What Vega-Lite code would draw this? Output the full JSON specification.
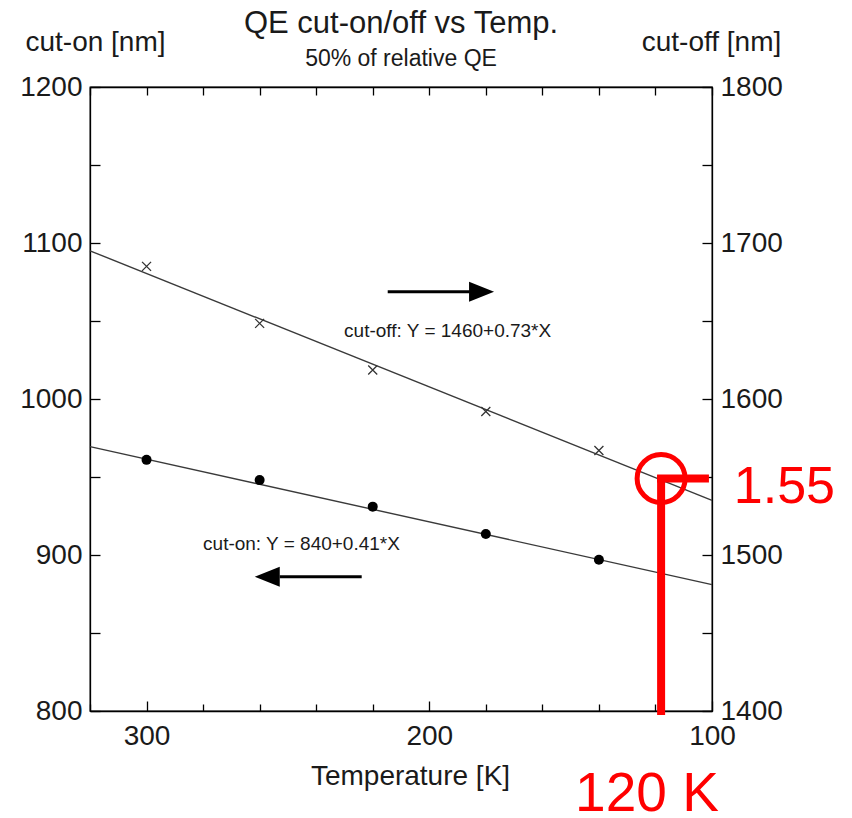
{
  "$schema": "https://vega.github.io/schema/vega-lite/v6.json",
  "width": 622,
  "height": 624,
  "autosize": {"type": "none"},
  "padding": {"left": 90, "top": 87, "right": 140, "bottom": 107},
  "background": "white",
  "config": {
    "view": {"stroke": "black", "strokeWidth": 1.3},
    "font": "Liberation Sans",
    "axis": {
      "domainColor": "black", "tickColor": "black", "domainWidth": 1.3, "tickWidth": 1.3,
      "labelColor": "#1a1a1a", "titleColor": "#1a1a1a",
      "labelFont": "Liberation Sans", "titleFont": "Liberation Sans",
      "grid": false, "titleFontWeight": "normal", "labelFontSize": 28, "titleFontSize": 28,
      "labelFlush": false, "labelOverlap": false
    }
  },
  "title": {
    "text": "QE cut-on/off vs Temp.",
    "subtitle": "50% of relative QE",
    "fontSize": 31, "subtitleFontSize": 23,
    "font": "Liberation Sans", "subtitleFont": "Liberation Sans",
    "fontWeight": "normal", "color": "#1a1a1a", "subtitleColor": "#1a1a1a",
    "frame": "group", "anchor": "middle", "offset": -44, "subtitlePadding": 8
  },
  "datasets": {
    "cuton": [
      {"T": 300, "nm": 961},
      {"T": 260, "nm": 948},
      {"T": 220, "nm": 931},
      {"T": 180, "nm": 913.5},
      {"T": 140, "nm": 897}
    ],
    "cutoff": [
      {"T": 300, "nm": 1685},
      {"T": 260, "nm": 1648.5},
      {"T": 220, "nm": 1618.6},
      {"T": 180, "nm": 1592},
      {"T": 140, "nm": 1567}
    ],
    "cuton_fit": [
      {"T": 320, "nm": 969.5},
      {"T": 100, "nm": 881}
    ],
    "cutoff_fit": [
      {"T": 320, "nm": 1695},
      {"T": 100, "nm": 1535}
    ]
  },
  "layer": [
    {
      "encoding": {
        "x": {
          "field": "T", "type": "quantitative",
          "scale": {"domain": [100, 320], "reverse": true, "nice": false, "zero": false},
          "axis": {
            "orient": "bottom",
            "values": [100, 120, 140, 160, 180, 200, 220, 240, 260, 280, 300, 320],
            "format": "d",
            "labelExpr": "datum.value % 100 === 0 ? datum.label : ''",
            "tickSize": {"condition": {"test": "datum.value % 100 === 0", "value": -10}, "value": -7},
            "labelPadding": 21,
            "title": "Temperature [K]", "titleFontSize": 28,
            "titleX": 320, "titleY": 73, "titleBaseline": "alphabetic", "titleAlign": "center"
          }
        },
        "y": {
          "field": "nm", "type": "quantitative",
          "scale": {"domain": [800, 1200], "nice": false, "zero": false},
          "axis": {
            "orient": "left",
            "values": [800, 850, 900, 950, 1000, 1050, 1100, 1150, 1200],
            "format": "d",
            "labelExpr": "datum.value % 100 === 0 ? datum.label : ''",
            "tickSize": -10, "labelPadding": 18,
            "title": "cut-on [nm]", "titleAngle": 0, "titleAlign": "center",
            "titleBaseline": "alphabetic", "titleX": 5, "titleY": -37
          }
        }
      },
      "layer": [
        {"data": {"name": "cuton_fit"}, "mark": {"type": "line", "color": "#3a3a3a", "strokeWidth": 1.4}},
        {"data": {"name": "cuton"}, "mark": {"type": "point", "shape": "circle", "filled": true, "color": "black", "size": 100, "opacity": 1}},
        {
          "data": {"values": [{"T": 245.2, "nm": 903.2, "label": "cut-on: Y = 840+0.41*X"}]},
          "mark": {"type": "text", "fontSize": 19, "align": "center", "baseline": "alphabetic", "color": "#1a1a1a"},
          "encoding": {"text": {"field": "label"}}
        },
        {
          "data": {"values": [{"T": 252.9, "T2": 223.9, "nm": 886}]},
          "mark": {"type": "rule", "color": "black", "strokeWidth": 3},
          "encoding": {"x2": {"field": "T2"}}
        },
        {
          "data": {"values": [{"T": 257.3, "nm": 886}]},
          "mark": {"type": "point", "shape": "M1,-0.8L-1,0L1,0.8Z", "filled": true, "color": "black", "size": 625, "opacity": 1}
        },
        {
          "data": {"values": [{"T": 118, "nm": 948.7, "nm2": 800}]},
          "mark": {"type": "rule", "color": "#ff0000", "strokeWidth": 8, "strokeCap": "square"},
          "encoding": {"y2": {"field": "nm2"}}
        },
        {
          "data": {"values": [{"T": 123, "nm": 736, "label": "120 K"}]},
          "mark": {"type": "text", "fontSize": 55, "align": "center", "baseline": "alphabetic", "color": "#ff0000"},
          "encoding": {"text": {"field": "label"}}
        }
      ]
    },
    {
      "encoding": {
        "x": {
          "field": "T", "type": "quantitative",
          "scale": {"domain": [100, 320], "reverse": true, "nice": false, "zero": false},
          "axis": {
            "orient": "top",
            "values": [100, 120, 140, 160, 180, 200, 220, 240, 260, 280, 300, 320],
            "labels": false, "tickSize": -8, "title": null
          }
        },
        "y": {
          "field": "nm", "type": "quantitative",
          "scale": {"domain": [1400, 1800], "nice": false, "zero": false},
          "axis": {
            "orient": "right",
            "values": [1400, 1450, 1500, 1550, 1600, 1650, 1700, 1750, 1800],
            "format": "d",
            "labelExpr": "datum.value % 100 === 0 ? datum.label : ''",
            "tickSize": -10, "labelPadding": 18,
            "title": "cut-off [nm]", "titleAngle": 0, "titleAlign": "center",
            "titleBaseline": "alphabetic", "titleX": -1, "titleY": -37
          }
        }
      },
      "layer": [
        {"data": {"name": "cutoff_fit"}, "mark": {"type": "line", "color": "#3a3a3a", "strokeWidth": 1.4}},
        {"data": {"name": "cutoff"}, "mark": {"type": "point", "shape": "M-1,-1L1,1M1,-1L-1,1", "filled": false, "color": "#333333", "strokeWidth": 1.3, "size": 81, "opacity": 1}},
        {
          "data": {"values": [{"T": 193.5, "nm": 1640, "label": "cut-off: Y = 1460+0.73*X"}]},
          "mark": {"type": "text", "fontSize": 19, "align": "center", "baseline": "alphabetic", "color": "#1a1a1a"},
          "encoding": {"text": {"field": "label"}}
        },
        {
          "data": {"values": [{"T": 214.7, "T2": 185.7, "nm": 1668.8}]},
          "mark": {"type": "rule", "color": "black", "strokeWidth": 3},
          "encoding": {"x2": {"field": "T2"}}
        },
        {
          "data": {"values": [{"T": 181.5, "nm": 1668.8}]},
          "mark": {"type": "point", "shape": "M-1,-0.8L1,0L-1,0.8Z", "filled": true, "color": "black", "size": 625, "opacity": 1}
        },
        {
          "data": {"values": [{"T": 118, "nm": 1549}]},
          "mark": {"type": "point", "shape": "circle", "filled": false, "color": "#ff0000", "strokeWidth": 5, "size": 2304, "opacity": 1}
        },
        {
          "data": {"values": [{"T": 118, "T2": 102.5, "nm": 1549}]},
          "mark": {"type": "rule", "color": "#ff0000", "strokeWidth": 8, "strokeCap": "square"},
          "encoding": {"x2": {"field": "T2"}}
        },
        {
          "data": {"values": [{"T": 74.4, "nm": 1533.3, "label": "1.55"}]},
          "mark": {"type": "text", "fontSize": 52, "align": "center", "baseline": "alphabetic", "color": "#ff0000"},
          "encoding": {"text": {"field": "label"}}
        }
      ]
    }
  ],
  "resolve": {
    "scale": {"x": "independent", "y": "independent"},
    "axis": {"x": "independent", "y": "independent"}
  }
}
